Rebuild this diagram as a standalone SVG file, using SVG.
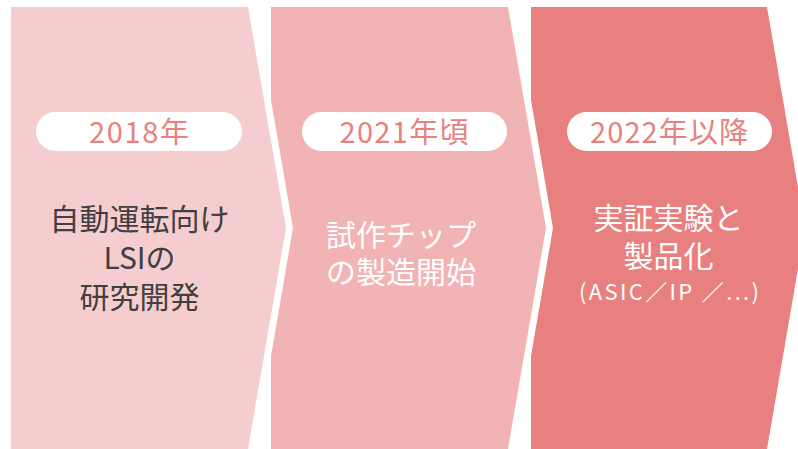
<svg xmlns="http://www.w3.org/2000/svg" width="798" height="449" viewBox="0 0 798 449">
<style>
.pill{fill:#ffffff}
.yr{font-family:"Noto Sans CJK JP","Noto Sans",sans-serif;font-size:29px;fill:#E98080;text-anchor:middle}
.main{font-family:"Noto Sans CJK JP","Noto Sans",sans-serif;font-size:30px;text-anchor:middle}
.dark{fill:#404040}
.light{fill:#ffffff}
.sub{font-family:"Noto Sans CJK JP","Noto Sans",sans-serif;font-size:22px;fill:#ffffff;text-anchor:middle}
</style>
<rect width="798" height="449" fill="#ffffff"/>
<g id="step1">
<polygon points="11,7 248,7 286,228 248,449 11,449" fill="#F6CDCE"/>
<rect class="pill" x="36" y="112" width="206" height="39" rx="19.5"/>
<text class="yr" x="139" y="143" textLength="100" lengthAdjust="spacing">2018年</text>
<text class="main dark" x="139.5" y="230">自動運転向け<tspan x="139.5" dy="39">LSIの</tspan><tspan x="139.5" dy="39">研究開発</tspan></text>
</g>
<g id="step2">
<polygon points="271,7 508,7 546,228 508,449 271,449 271,356 293,228 271,100" fill="#F2B3B4"/>
<rect class="pill" x="302" y="112" width="205" height="39" rx="19.5"/>
<text class="yr" x="404" y="143" textLength="129" lengthAdjust="spacing">2021年頃</text>
<text class="main light" x="401" y="246">試作チップ<tspan x="401" dy="37">の製造開始</tspan></text>
</g>
<g id="step3">
<polygon points="531,7 767,7 805,228 767,449 531,449 531,356 553,228 531,100" fill="#E98080"/>
<rect class="pill" x="567" y="112" width="205" height="39" rx="19.5"/>
<text class="yr" x="669" y="143" textLength="158" lengthAdjust="spacing">2022年以降</text>
<text class="main light" x="668.5" y="229">実証実験と<tspan x="668.5" dy="38">製品化</tspan></text>
<text class="sub" x="669" y="300" textLength="180" lengthAdjust="spacing">(ASIC／IP ／...)</text>
</g>
<g id="connectors"></g>
</svg>
